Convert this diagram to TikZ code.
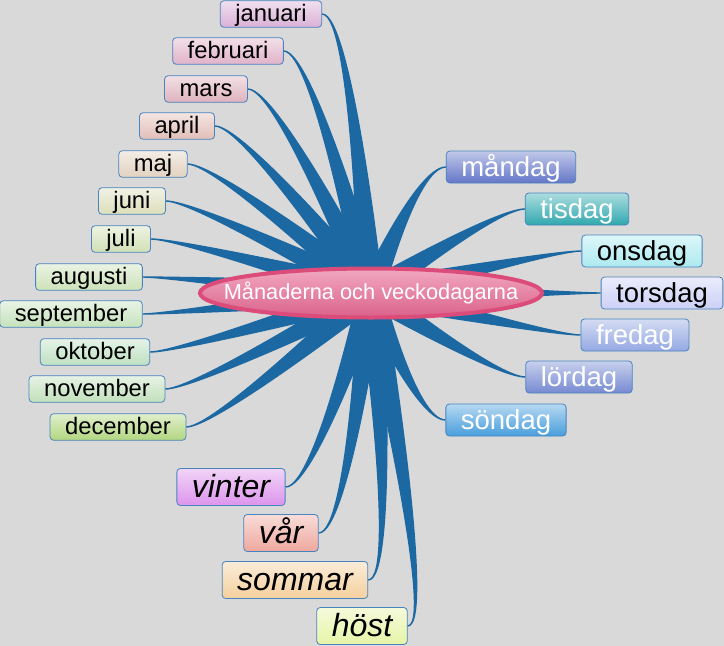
\documentclass[tikz,border=0pt]{standalone}
\usepackage{fontspec}
\setmainfont{Liberation Sans}
\usetikzlibrary{calc}
\usetikzlibrary{shapes.geometric}
\definecolor{bggrey}{RGB}{217,217,217}
\definecolor{twigblue}{RGB}{27,104,162}
\definecolor{rimblue}{RGB}{72,132,192}
\definecolor{hubrim}{RGB}{220,76,122}
\definecolor{hubtop}{RGB}{242,168,192}
\definecolor{hubbot}{RGB}{218,98,138}
\definecolor{cjan}{RGB}{218,176,214}
\definecolor{cfeb}{RGB}{224,178,200}
\definecolor{cmar}{RGB}{222,178,190}
\definecolor{capr}{RGB}{226,190,184}
\definecolor{cmaj}{RGB}{226,210,192}
\definecolor{cjun}{RGB}{220,222,186}
\definecolor{cjul}{RGB}{210,224,182}
\definecolor{caug}{RGB}{204,226,184}
\definecolor{csep}{RGB}{198,226,188}
\definecolor{cokt}{RGB}{190,224,194}
\definecolor{cnov}{RGB}{194,224,188}
\definecolor{cdec}{RGB}{178,214,128}
\definecolor{cmon}{RGB}{100,118,200}
\definecolor{ctis}{RGB}{48,168,174}
\definecolor{cons}{RGB}{172,234,240}
\definecolor{ctor}{RGB}{204,208,246}
\definecolor{cfre}{RGB}{148,168,226}
\definecolor{clor}{RGB}{118,138,210}
\definecolor{cson}{RGB}{72,158,220}
\definecolor{cvin}{RGB}{220,148,236}
\definecolor{cvar}{RGB}{238,168,158}
\definecolor{csom}{RGB}{244,208,158}
\definecolor{chos}{RGB}{230,244,166}
\pgfdeclarelayer{twigs}
\pgfsetlayers{twigs,main}
\tikzset{
 card/.style={draw=rimblue, line width=.8pt, rounded corners=3.5pt, inner xsep=15pt, inner ysep=0pt,
  top color=#1!40!white, bottom color=#1},
 month/.style={card=#1, minimum height=26.5pt, text height=20pt, text depth=4.4pt, font=\fontsize{23.8}{26}\selectfont},
 day/.style={card=#1, minimum height=32pt, text height=23.6pt, text depth=4.6pt, font=\fontsize{27.5}{30}\selectfont},
 season/.style={card=#1, minimum height=37pt, text height=27pt, text depth=5.4pt, font=\fontsize{32}{35}\selectfont\itshape},
 twig/.style={fill=twigblue, draw=twigblue, line width=1.4pt, line join=round}
}
\begin{document}
\begin{tikzpicture}[x=1pt,y=-1pt]
\useasboundingbox (0,0) rectangle (724,646);
\node[ellipse, minimum width=342pt, minimum height=49pt, inner sep=0, draw=hubrim, line width=4pt,
 top color=hubtop, bottom color=hubbot, text=white, font=\fontsize{21.8}{24}\selectfont] (hub) at (371,293) {\makebox[0pt]{Månaderna och veckodagarna}};
\node[month=cjan] (jan) at (271,14) {januari};
\node[month=cfeb] (feb) at (228,51) {februari};
\node[month=cmar] (mar) at (206,89) {mars};
\node[month=capr] (apr) at (177,126) {april};
\node[month=cmaj] (maj) at (153,164) {maj};
\node[month=cjun] (jun) at (132,201) {juni};
\node[month=cjul] (jul) at (121,239) {juli};
\node[month=caug] (aug) at (89,277) {augusti};
\node[month=csep] (sep) at (71,314) {september};
\node[month=cokt] (okt) at (95,352) {oktober};
\node[month=cnov] (nov) at (97,389) {november};
\node[month=cdec] (dec) at (118,427) {december};
\node[day=cmon, text=white] (mon) at (511,167) {måndag};
\node[day=ctis, text=white] (tis) at (577,209) {tisdag};
\node[day=cons] (ons) at (642,251) {onsdag};
\node[day=ctor] (tor) at (662,293) {torsdag};
\node[day=cfre, text=white] (fre) at (635,335) {fredag};
\node[day=clor, text=white] (lor) at (579,377) {lördag};
\node[day=cson, text=white] (son) at (506,420) {söndag};
\node[season=cvin] (vin) at (231,487) {vinter};
\node[season=cvar] (var) at (281,533) {vår};
\node[season=csom] (som) at (295,580) {sommar};
\node[season=chos] (hos) at (362,626) {höst};
\begin{pgfonlayer}{twigs}
\fill[bggrey] (0,0) rectangle (724,646);
\foreach \n in {jan,feb,mar,apr,maj,jun,jul,aug,sep,okt,nov,dec,vin,var,som,hos} {
 \coordinate (k) at ($(\n.east)+(30,0)$);
 \filldraw[twig] (\n.east) .. controls (k) and ($(hub.center)!12pt!90:(k)$) .. ($(hub.center)!12pt!90:(k)$)
  -- ($(hub.center)!12pt!-90:(k)$) .. controls ($(hub.center)!12pt!-90:(k)$) and (k) .. (\n.east);
}
\foreach \n in {mon,tis,ons,tor,fre,lor,son} {
 \coordinate (k) at ($(\n.west)+(-30,0)$);
 \filldraw[twig] (\n.west) .. controls (k) and ($(hub.center)!12pt!90:(k)$) .. ($(hub.center)!12pt!90:(k)$)
  -- ($(hub.center)!12pt!-90:(k)$) .. controls ($(hub.center)!12pt!-90:(k)$) and (k) .. (\n.west);
}
\end{pgfonlayer}
\end{tikzpicture}
\end{document}
